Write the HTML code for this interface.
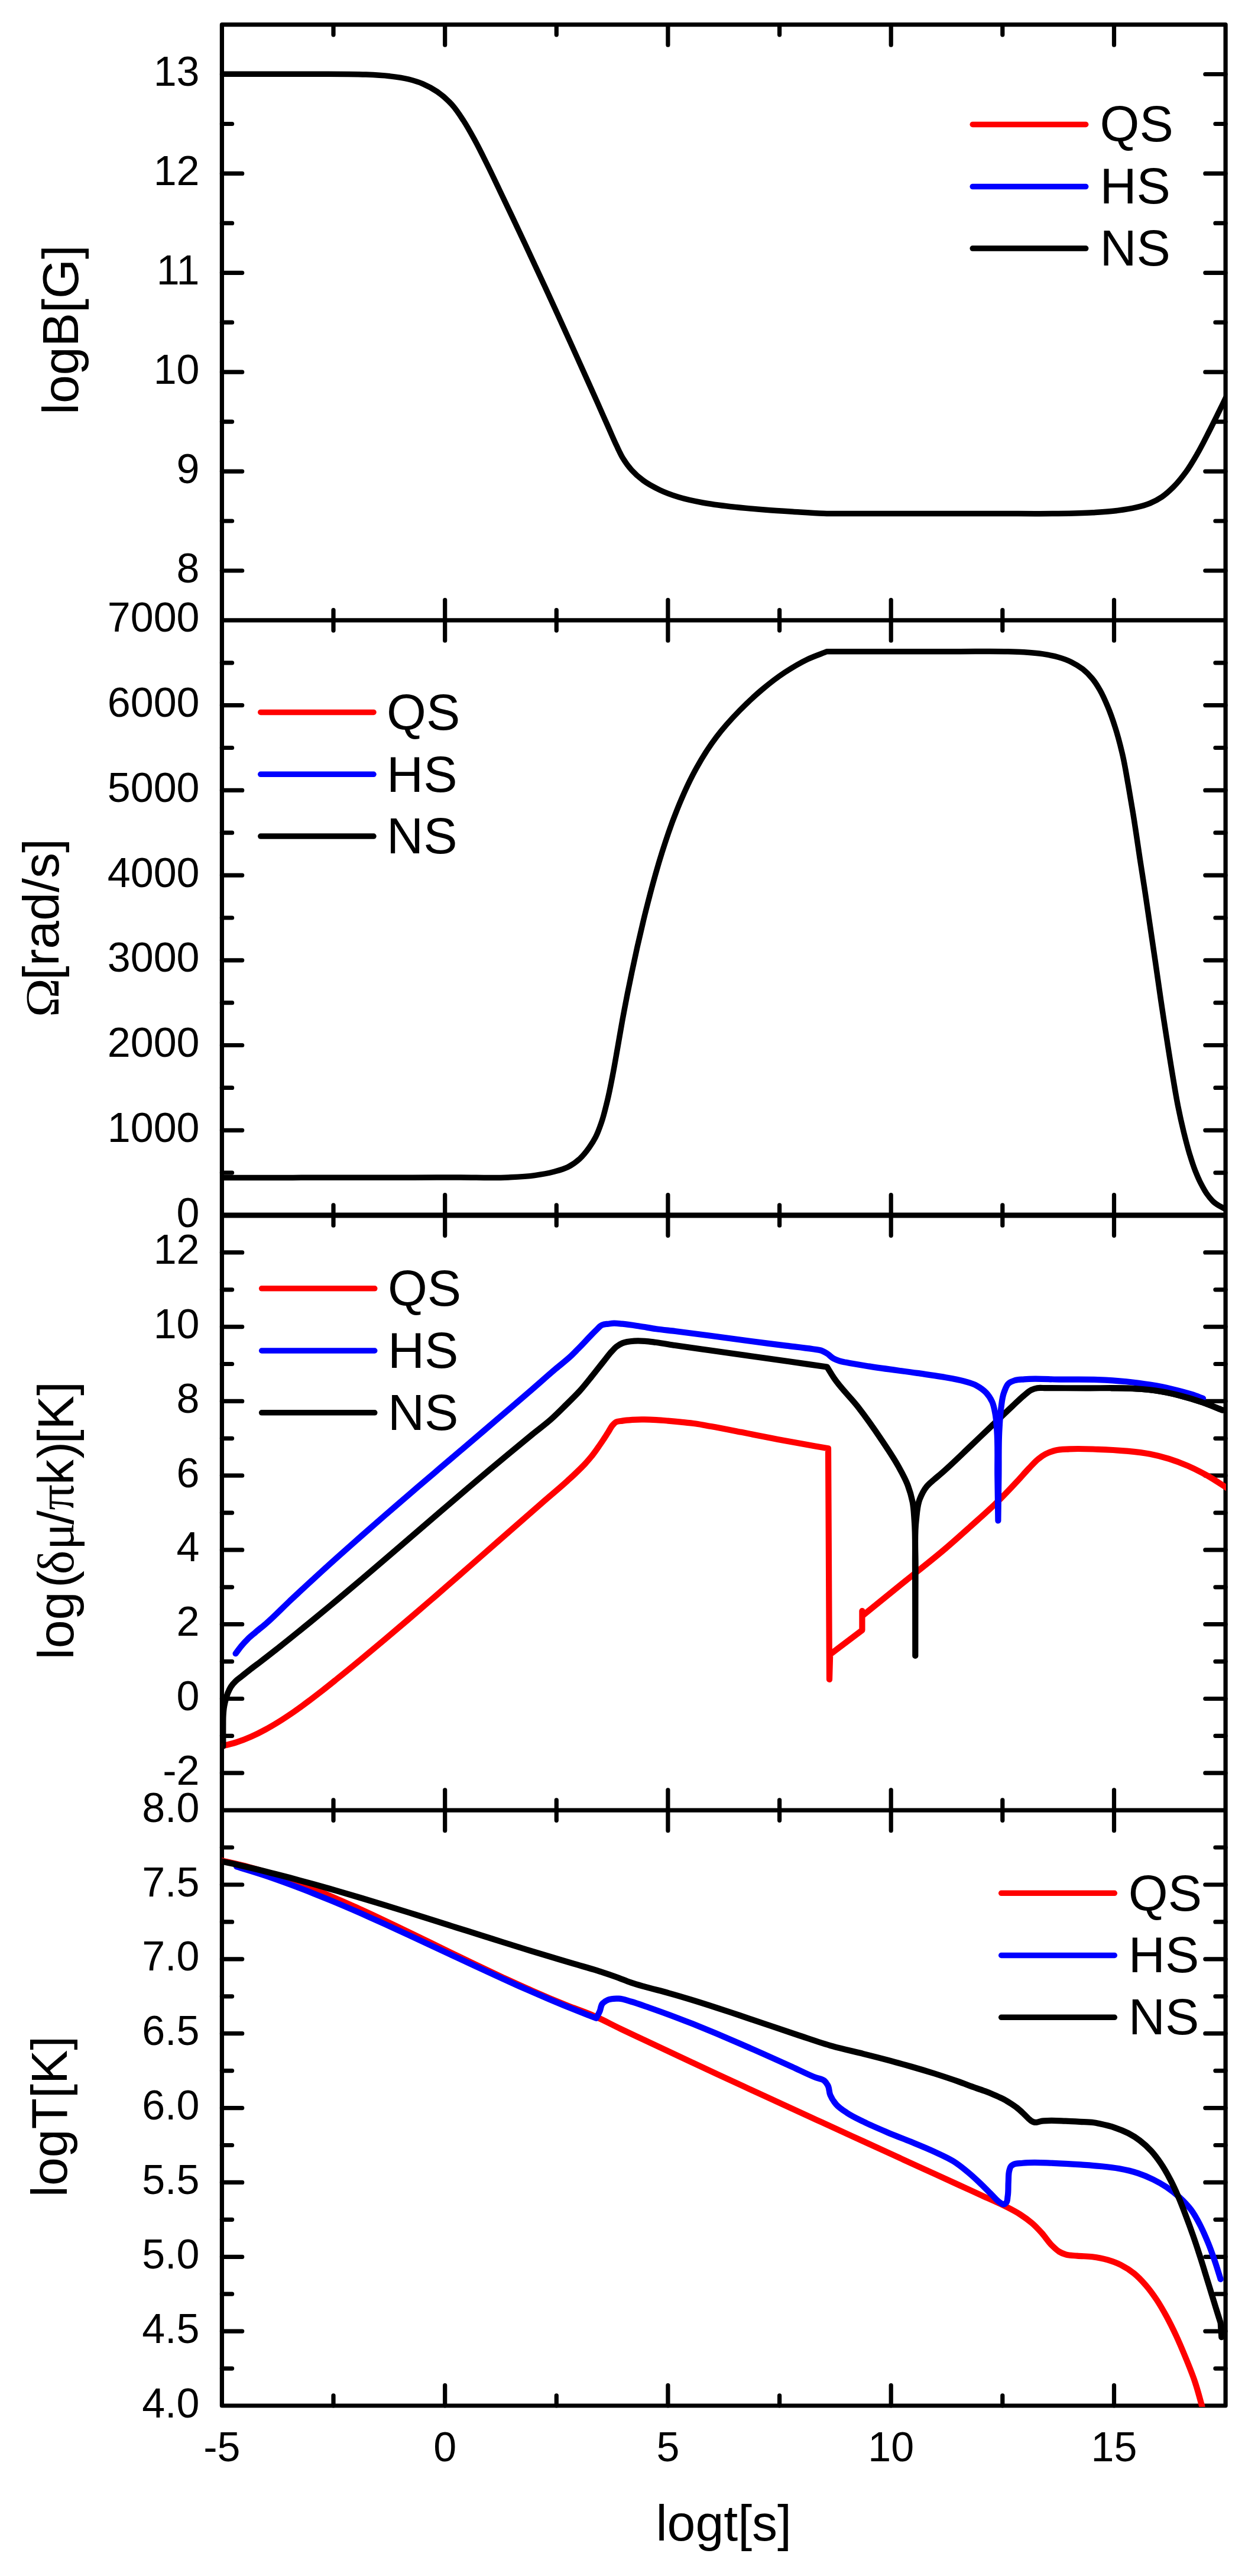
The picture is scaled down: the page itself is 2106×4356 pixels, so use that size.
<!DOCTYPE html>
<html lang="en"><head><meta charset="utf-8"><title>Evolution of logB, Omega, delta mu and logT versus logt for QS, HS and NS</title>
<style>html,body{margin:0;padding:0;background:#fff}svg{display:block}text{font-family:"Liberation Sans", Arial, Helvetica, sans-serif;fill:#000}.t{font-size:70px}.l{font-size:86px}.g{font-family:"Liberation Serif", "Times New Roman", serif}</style></head><body>
<svg width="2106" height="4356" viewBox="0 0 2106 4356">
<rect width="2106" height="4356" fill="#fff"/>
<g stroke-width="9.5" stroke-linecap="round"><line x1="1645.2" y1="210.5" x2="1836.7" y2="210.5" stroke="#ff0000"/><line x1="1645.2" y1="315.6" x2="1836.7" y2="315.6" stroke="#0000ff"/><line x1="1645.2" y1="420.1" x2="1836.7" y2="420.1" stroke="#000000"/></g><text class="l" x="1860.5" y="239.4">QS</text><text class="l" x="1860.5" y="344.2">HS</text><text class="l" x="1860.5" y="449">NS</text>
<g stroke-width="9.5" stroke-linecap="round"><line x1="440.8" y1="1204.4" x2="632" y2="1204.4" stroke="#ff0000"/><line x1="440.8" y1="1309.3" x2="632" y2="1309.3" stroke="#0000ff"/><line x1="440.8" y1="1414.1" x2="632" y2="1414.1" stroke="#000000"/></g><text class="l" x="654.1" y="1233.7">QS</text><text class="l" x="654.1" y="1338.5">HS</text><text class="l" x="654.1" y="1443.3">NS</text>
<g stroke-width="9.5" stroke-linecap="round"><line x1="442.6" y1="2178.8" x2="633.8" y2="2178.8" stroke="#ff0000"/><line x1="442.6" y1="2284" x2="633.8" y2="2284" stroke="#0000ff"/><line x1="442.6" y1="2388.8" x2="633.8" y2="2388.8" stroke="#000000"/></g><text class="l" x="655.9" y="2208.4">QS</text><text class="l" x="655.9" y="2313.2">HS</text><text class="l" x="655.9" y="2418">NS</text>
<g stroke-width="9.5" stroke-linecap="round"><line x1="1693.7" y1="3201.3" x2="1885.3" y2="3201.3" stroke="#ff0000"/><line x1="1693.7" y1="3306.5" x2="1885.3" y2="3306.5" stroke="#0000ff"/><line x1="1693.7" y1="3411.3" x2="1885.3" y2="3411.3" stroke="#000000"/></g><text class="l" x="1908.8" y="3230.6">QS</text><text class="l" x="1908.8" y="3335.4">HS</text><text class="l" x="1908.8" y="3440.2">NS</text>
<g stroke="#000" stroke-width="7.2" stroke-linecap="round" fill="none">
<path d="M375.4 41.6V4068M2073.1 41.6V4068M375.4 41.6H2073.1M375.4 1048.9H2073.1M375.4 2055H2073.1M375.4 3061.1H2073.1M375.4 4068H2073.1"/>
<path d="M375.4 2055H2073.1" stroke-width="9.2" stroke-linecap="butt"/>
<path d="M752.7 41.6V75.9M1129.9 41.6V75.9M1507.2 41.6V75.9M1884.5 41.6V75.9M564 41.6V58.8M941.3 41.6V58.8M1318.6 41.6V58.8M1695.8 41.6V58.8M752.7 1014.6V1083.2M1129.9 1014.6V1083.2M1507.2 1014.6V1083.2M1884.5 1014.6V1083.2M564 1031.7V1066.1M941.3 1031.7V1066.1M1318.6 1031.7V1066.1M1695.8 1031.7V1066.1M752.7 2020.7V2089.3M1129.9 2020.7V2089.3M1507.2 2020.7V2089.3M1884.5 2020.7V2089.3M564 2037.8V2072.2M941.3 2037.8V2072.2M1318.6 2037.8V2072.2M1695.8 2037.8V2072.2M752.7 3026.8V3095.4M1129.9 3026.8V3095.4M1507.2 3026.8V3095.4M1884.5 3026.8V3095.4M564 3043.9V3078.3M941.3 3043.9V3078.3M1318.6 3043.9V3078.3M1695.8 3043.9V3078.3M752.7 4033.7V4068M1129.9 4033.7V4068M1507.2 4033.7V4068M1884.5 4033.7V4068M564 4050.8V4068M941.3 4050.8V4068M1318.6 4050.8V4068M1695.8 4050.8V4068M375.4 965H409.7M2073.1 965H2038.8M375.4 797.1H409.7M2073.1 797.1H2038.8M375.4 629.2H409.7M2073.1 629.2H2038.8M375.4 461.3H409.7M2073.1 461.3H2038.8M375.4 293.4H409.7M2073.1 293.4H2038.8M375.4 125.5H409.7M2073.1 125.5H2038.8M375.4 881H392.6M2073.1 881H2055.9M375.4 713.1H392.6M2073.1 713.1H2055.9M375.4 545.2H392.6M2073.1 545.2H2055.9M375.4 377.4H392.6M2073.1 377.4H2055.9M375.4 209.5H392.6M2073.1 209.5H2055.9M375.4 1911.3H409.7M2073.1 1911.3H2038.8M375.4 1767.5H409.7M2073.1 1767.5H2038.8M375.4 1623.8H409.7M2073.1 1623.8H2038.8M375.4 1480.1H409.7M2073.1 1480.1H2038.8M375.4 1336.4H409.7M2073.1 1336.4H2038.8M375.4 1192.6H409.7M2073.1 1192.6H2038.8M375.4 1983.1H392.6M2073.1 1983.1H2055.9M375.4 1839.4H392.6M2073.1 1839.4H2055.9M375.4 1695.7H392.6M2073.1 1695.7H2055.9M375.4 1552H392.6M2073.1 1552H2055.9M375.4 1408.2H392.6M2073.1 1408.2H2055.9M375.4 1264.5H392.6M2073.1 1264.5H2055.9M375.4 1120.8H392.6M2073.1 1120.8H2055.9M375.4 2998.2H409.7M2073.1 2998.2H2038.8M375.4 2872.5H409.7M2073.1 2872.5H2038.8M375.4 2746.7H409.7M2073.1 2746.7H2038.8M375.4 2620.9H409.7M2073.1 2620.9H2038.8M375.4 2495.2H409.7M2073.1 2495.2H2038.8M375.4 2369.4H409.7M2073.1 2369.4H2038.8M375.4 2243.6H409.7M2073.1 2243.6H2038.8M375.4 2117.9H409.7M2073.1 2117.9H2038.8M375.4 2935.3H392.6M2073.1 2935.3H2055.9M375.4 2809.6H392.6M2073.1 2809.6H2055.9M375.4 2683.8H392.6M2073.1 2683.8H2055.9M375.4 2558.1H392.6M2073.1 2558.1H2055.9M375.4 2432.3H392.6M2073.1 2432.3H2055.9M375.4 2306.5H392.6M2073.1 2306.5H2055.9M375.4 2180.8H392.6M2073.1 2180.8H2055.9M375.4 3942.1H409.7M2073.1 3942.1H2038.8M375.4 3816.3H409.7M2073.1 3816.3H2038.8M375.4 3690.4H409.7M2073.1 3690.4H2038.8M375.4 3564.6H409.7M2073.1 3564.6H2038.8M375.4 3438.7H409.7M2073.1 3438.7H2038.8M375.4 3312.8H409.7M2073.1 3312.8H2038.8M375.4 3187H409.7M2073.1 3187H2038.8M375.4 4005.1H392.6M2073.1 4005.1H2055.9M375.4 3879.2H392.6M2073.1 3879.2H2055.9M375.4 3753.3H392.6M2073.1 3753.3H2055.9M375.4 3627.5H392.6M2073.1 3627.5H2055.9M375.4 3501.6H392.6M2073.1 3501.6H2055.9M375.4 3375.8H392.6M2073.1 3375.8H2055.9M375.4 3249.9H392.6M2073.1 3249.9H2055.9M375.4 3124H392.6M2073.1 3124H2055.9"/>
</g>
<defs><clipPath id="c1"><rect x="375.4" y="41.6" width="1698.5" height="1007.3"/></clipPath><clipPath id="c2"><rect x="375.4" y="1048.9" width="1698.5" height="1006.1"/></clipPath><clipPath id="c3"><rect x="375.4" y="2055" width="1698.5" height="1006.1"/></clipPath><clipPath id="c4"><rect x="375.4" y="3061.1" width="1698.5" height="1008.9"/></clipPath></defs>
<g fill="none" stroke-width="9.5" stroke-linecap="round" stroke-linejoin="round">
<path d="M374 125.2C401.4 125.2 428.9 125.2 456.4 125.2C483.8 125.3 511.3 125.2 538.7 125.3C555.8 125.3 572.9 125.2 590 125.5C599.7 125.6 609.3 125.7 619 126.1C632.3 126.6 645.7 127.2 659 128.8C669.8 130.1 680.8 131.4 691.3 134C699.5 136.1 707.7 138.5 715.4 141.8C723.8 145.4 732 149.9 739.5 155C748.2 161 756.4 168.2 763.6 176C771.3 184.3 777.5 194 783.7 203.5C791 214.6 797.3 226.3 803.7 238C810.8 251 817.2 264.3 823.8 277.5C830.7 291.3 837.2 305.3 843.9 319.2C851.4 334.9 858.9 350.6 866.4 366.4C873.8 382 881.2 397.6 888.5 413.3C895.9 429.1 903.3 444.9 910.6 460.7C918 476.6 925.3 492.6 932.7 508.5C940 524.6 947.4 540.6 954.7 556.7C961.4 571.5 968.1 586.3 974.8 601.1C981.5 615.9 988.2 630.8 994.9 645.7C1000.3 657.7 1005.6 669.7 1011 681.6C1016.3 693.6 1021.6 705.7 1027 717.7C1032.4 729.7 1037.4 741.9 1043.1 753.8C1046.3 760.5 1049.3 767.5 1053.1 773.9C1057.5 781.2 1062.5 788.3 1068.2 794.6C1074.2 801.3 1081.1 807.4 1088.3 812.7C1096.9 819.1 1106.7 824.1 1116.4 828.7C1126.7 833.6 1137.6 837.4 1148.5 840.8C1161.6 844.8 1175.2 847.5 1188.7 850C1204.6 853 1220.8 854.9 1236.9 856.8C1255.6 859 1274.3 860.5 1293.1 862C1309.2 863.3 1325.2 864.3 1341.3 865.3C1358.7 866.4 1376.1 867.7 1393.5 868.3C1414.6 869 1435.7 868.4 1456.8 868.4C1477.8 868.4 1498.9 868.5 1520 868.5C1549 868.5 1577.9 868.5 1606.9 868.5C1635.9 868.5 1664.8 868.5 1693.8 868.5C1722.8 868.5 1751.7 868.9 1780.7 868.5C1803.5 868.2 1826.3 868.1 1849 866.7C1862.4 865.9 1875.9 865.2 1889.2 863.5C1899.9 862.1 1910.8 860.7 1921.3 858.2C1929.4 856.3 1937.7 854.2 1945.4 851C1952.4 848.1 1959.2 844.4 1965.5 840.2C1972.8 835.3 1979.3 829.1 1985.5 822.9C1992.9 815.5 1999.4 807.2 2005.6 798.8C2013.1 788.6 2019.4 777.6 2025.7 766.7C2032.9 754.3 2039.3 741.3 2045.8 728.5C2051.2 717.9 2056.5 707.1 2061.8 696.4C2066.6 686.7 2071.3 676.9 2076 667.2" stroke="#000000" clip-path="url(#c1)"/>
<path d="M374 1991.5C401 1991.5 428 1991.4 455 1991.4C482 1991.4 509.1 1991.4 536.1 1991.3C563.1 1991.3 590.1 1991.3 617.1 1991.2C644.1 1991.2 671.1 1991.2 698.1 1991.2C725.1 1991.1 752.2 1991.1 779.2 1991.1C806.2 1991.1 833.2 1992.3 860.2 1991C874.9 1990.3 889.8 1989.7 904.4 1987.6C915.2 1986.1 926 1984.3 936.5 1981.5C944.7 1979.3 953.1 1977.3 960.6 1973.5C967.8 1969.8 974.7 1964.9 980.7 1959.4C986.8 1953.8 992 1947 996.8 1940.2C1000.6 1934.8 1004.2 1929.1 1007.3 1923.2C1011.4 1915.3 1014.4 1906.8 1017.3 1898.3C1021.6 1885.9 1024.5 1873 1027.6 1860.3C1031.2 1845.4 1034 1830.4 1036.9 1815.4C1039.8 1800.3 1042.3 1785.2 1045 1770.1C1047.7 1754.8 1050.2 1739.6 1053 1724.3C1055.6 1710.2 1058.2 1696.2 1061 1682.1C1063.6 1669.1 1066.3 1656.1 1069 1643.1C1071.9 1629.5 1074.8 1615.9 1077.8 1602.3C1080.7 1589.5 1083.7 1576.7 1086.7 1563.9C1089.4 1552.4 1092.2 1540.9 1095.2 1529.4C1097.9 1518.7 1100.7 1507.9 1103.6 1497.2C1107.1 1484.4 1110.7 1471.7 1114.4 1459.1C1117.9 1447.5 1121.5 1436 1125.3 1424.5C1129.1 1412.9 1133.1 1401.4 1137.3 1389.9C1141.2 1379.6 1145.2 1369.3 1149.4 1359.1C1154 1348.2 1158.7 1337.3 1163.8 1326.6C1168.4 1317.1 1173.2 1307.6 1178.3 1298.4C1183.6 1288.8 1189.2 1279.3 1195.2 1270.1C1200.5 1261.9 1206.1 1253.9 1212 1246.1C1223.8 1230.5 1237 1215.9 1250.6 1202C1262.9 1189.4 1275.7 1177.3 1289.2 1166C1301.5 1155.7 1314.3 1145.7 1327.7 1136.9C1340.1 1128.8 1352.9 1121.1 1366.3 1114.7C1376.9 1109.7 1388.1 1106 1399 1101.7C1424.1 1101.7 1449.2 1101.7 1474.2 1101.7C1499.3 1101.7 1524.4 1101.7 1549.5 1101.7C1574.6 1101.7 1599.7 1101.7 1624.8 1101.7C1649.8 1101.7 1674.9 1101.2 1700 1101.7C1710.7 1101.9 1721.4 1102 1732.1 1102.7C1742.9 1103.4 1753.7 1104.2 1764.3 1105.9C1772.9 1107.3 1781.6 1108.8 1790 1111.3C1797.7 1113.5 1805.4 1116.2 1812.5 1119.7C1819.2 1123 1825.8 1127 1831.7 1131.6C1837.6 1136.3 1843 1141.8 1847.8 1147.6C1852.7 1153.5 1856.8 1160.2 1860.6 1166.9C1865.6 1175.6 1869.6 1184.9 1873.5 1194.2C1878.4 1205.7 1882.5 1217.7 1886.3 1229.6C1891.4 1245.4 1895.5 1261.6 1899.2 1277.8C1903.1 1294.8 1905.7 1312 1908.8 1329.2C1912.2 1348.4 1915.4 1367.7 1918.5 1387C1921.9 1408.4 1924.8 1429.9 1928.1 1451.3C1930.7 1468.4 1933.5 1485.6 1936.1 1502.7C1939 1521.9 1941.8 1541 1944.6 1560.2C1947.8 1581.9 1951 1603.6 1954.2 1625.3C1957.5 1647.8 1960.6 1670.3 1963.9 1692.8C1967 1713.7 1970.2 1734.5 1973.5 1755.4C1976.6 1775.5 1979.7 1795.6 1983.1 1815.7C1986.2 1834.2 1989.1 1852.7 1992.8 1871.1C1995.7 1885.6 1998.9 1900.1 2002.4 1914.5C2005.4 1926.6 2008.4 1938.7 2012 1950.6C2015 1960.3 2018 1970.1 2021.7 1979.5C2024.6 1986.8 2027.7 1994.2 2031.3 2001.2C2034.3 2007 2037.3 2012.8 2041 2018.1C2044.6 2023.2 2048.5 2028.3 2053 2032.5C2059.5 2038.5 2068.3 2041.8 2076 2046.5" stroke="#000000" clip-path="url(#c2)"/>
<path d="M378 2952.2C385.4 2950.2 392.9 2948.6 400.2 2946.2C408.4 2943.6 416.4 2940.4 424.3 2936.9C432.5 2933.3 440.5 2929.3 448.4 2925C456.6 2920.6 464.5 2915.9 472.4 2911C480.6 2905.9 488.6 2900.5 496.5 2895.1C504.7 2889.4 512.7 2883.6 520.6 2877.7C528.7 2871.6 536.7 2865.4 544.7 2859.2C553.5 2852.4 562.1 2845.4 570.8 2838.4C584.3 2827.6 597.7 2816.6 611 2805.6C624.4 2794.5 637.8 2783.3 651.1 2772.1C664.6 2760.8 678 2749.4 691.3 2738C702.8 2728.2 714.2 2718.4 725.6 2708.5C737.1 2698.6 748.6 2688.6 760 2678.7C771.9 2668.3 783.8 2657.9 795.7 2647.5C810.5 2634.6 825.2 2621.6 840 2608.7C853.3 2597 866.7 2585.3 880 2573.6C893.3 2562 906.6 2550.3 920 2538.7C933.3 2527.1 947 2515.9 960 2504C965 2499.4 970.1 2494.8 975 2490C980.1 2485.1 985.2 2480.2 990 2475C993.4 2471.2 996.8 2467.4 1000 2463.4C1003.5 2459.1 1006.7 2454.5 1010 2450C1013.4 2445.2 1016.7 2440.4 1020 2435.5C1023 2431 1025.8 2426.5 1028.7 2422C1031.4 2417.8 1033.4 2413.1 1036.7 2409.5C1038.2 2407.9 1039.7 2406.1 1041.5 2405C1044.7 2403 1049 2403.2 1052.8 2402.6C1058.5 2401.6 1064.3 2401.2 1070 2400.8C1076.6 2400.4 1083.3 2400.3 1090 2400.4C1096.7 2400.5 1103.3 2400.8 1110 2401.2C1116.7 2401.6 1123.3 2402.1 1130 2402.6C1137.1 2403.2 1144.3 2403.9 1151.4 2404.6C1160 2405.5 1168.6 2406.3 1177.1 2407.5C1185.7 2408.7 1194.2 2410.5 1202.8 2412C1220 2415.1 1237.1 2418.5 1254.2 2421.8C1271.4 2425.1 1288.5 2428.7 1305.7 2432C1322.8 2435.3 1339.9 2438.5 1357.1 2441.6C1371.7 2444.2 1386.4 2446.7 1401 2449.3L1403 2840L1404.2 2797.6L1458.4 2756.6L1458.4 2724L1460.5 2731C1483.8 2712.2 1507 2693.3 1530.2 2674.5C1553.5 2655.7 1577.3 2637.4 1600 2618C1613.6 2606.4 1626.9 2594.4 1640.2 2582.5C1656.4 2568 1672.9 2553.7 1688.4 2538.4C1699.4 2527.6 1710 2516.3 1720.5 2505C1727.3 2497.7 1733.7 2490.1 1740.6 2482.9C1745.8 2477.5 1750.7 2471.5 1756.6 2466.9C1760.4 2463.9 1764.4 2461 1768.7 2458.8C1773.7 2456.2 1779.2 2454.2 1784.7 2452.8C1792.5 2450.8 1800.8 2450.9 1808.8 2450.4C1824.8 2449.4 1840.9 2450.3 1857 2450.8C1873.1 2451.3 1889.2 2452.1 1905.2 2453.6C1918.6 2454.9 1932.2 2456.2 1945.4 2458.8C1956.2 2460.9 1967 2463.6 1977.5 2466.9C1988.4 2470.3 1999.1 2474.4 2009.6 2478.9C2020.6 2483.7 2031.3 2489.2 2041.8 2495C2053.5 2501.6 2064.6 2509.3 2076 2516.5" stroke="#ff0000" clip-path="url(#c3)" stroke-width="10.2"/>
<path d="M377.3 2953C377.3 2942 377.2 2931 377.3 2920C377.4 2913.5 377.2 2907 377.6 2900.6C377.9 2895.3 378.3 2889.9 379.3 2884.6C380 2880.8 380.9 2877 382 2873.3C383.1 2869.5 384.2 2865.7 385.7 2862.1C387.1 2858.8 388.6 2855.4 390.5 2852.4C392.7 2848.9 395.6 2845.7 398.6 2842.8C401.5 2840 405 2837.7 408.2 2835.1C413.6 2830.8 418.9 2826.4 424.3 2822.2C429.6 2818.1 435 2814.2 440.3 2810.2C451.1 2802 461.7 2793.6 472.4 2785.2C483.2 2776.7 493.9 2768.1 504.6 2759.4C513.3 2752.4 522 2745.4 530.6 2738.3C544.1 2727.2 557.4 2716.1 570.8 2705C584.2 2693.7 597.6 2682.4 611 2671.1C624.4 2659.7 637.8 2648.3 651.1 2636.9C664.6 2625.4 677.9 2613.9 691.3 2602.4C702.8 2592.6 714.2 2582.7 725.6 2572.9C737.1 2563 748.5 2553.2 760 2543.4C771.1 2533.9 782.2 2524.4 793.3 2514.9C804.4 2505.5 815.5 2496.1 826.7 2486.7C837.8 2477.3 848.9 2468 860 2458.8C873.3 2447.7 886.7 2436.7 900.2 2425.7C910.8 2417.1 921.9 2409.1 932.1 2400C940.7 2392.4 948.8 2384.1 957 2376C964.9 2368.2 973 2360.5 980.5 2352.3C987.5 2344.5 994 2336.2 1000.6 2328C1007.4 2319.6 1013.9 2311.1 1020.6 2302.7C1025.3 2296.9 1029.6 2290.8 1034.7 2285.3C1037.3 2282.5 1039.7 2279.5 1042.7 2277.2C1045.8 2274.8 1049.3 2272.7 1052.8 2271.2C1059 2268.6 1066.1 2268.1 1072.9 2267.6C1078.9 2267.1 1084.9 2267.4 1090.9 2267.8C1097.3 2268.2 1103.6 2269.2 1110 2270C1120.6 2271.4 1131.2 2273.4 1141.8 2275C1161.2 2277.9 1180.6 2280.5 1200 2283.2C1223.5 2286.5 1247 2289.9 1270.5 2293.2C1291.9 2296.2 1313.3 2299.3 1334.8 2302.3C1356.2 2305.4 1377.6 2308.4 1399 2311.5C1403 2317.9 1406.8 2324.5 1411 2330.7C1422.7 2348 1438.4 2362.4 1451.2 2378.9C1465.3 2397.1 1478.6 2416 1491.4 2435.1C1501.1 2449.6 1511.1 2464 1519.5 2479.3C1525.3 2489.8 1531.3 2500.3 1535.5 2511.4C1538.9 2520.5 1541.7 2530 1543.6 2539.6C1545.7 2550.1 1546 2561 1546.8 2571.7C1548.8 2597.7 1547.8 2623.9 1548 2650C1548.2 2675 1548.1 2700 1548.2 2725C1548.2 2750 1548.2 2775 1548.3 2800C1548.3 2775 1548.4 2750 1548.4 2725C1548.5 2700 1548.4 2675 1548.6 2650C1548.8 2623.9 1546.6 2597.6 1549.6 2571.7C1551 2559.6 1551.3 2546.8 1555.6 2535.5C1558.6 2527.8 1562.4 2519.9 1567.7 2513.5C1571.2 2509.2 1575.8 2505.7 1580 2502C1583.9 2498.6 1587.9 2495.4 1591.8 2492C1608.5 2477.6 1624.2 2462 1640.2 2446.8C1653.6 2434.1 1666.9 2421.2 1680.3 2408.5C1691 2398.3 1701.6 2388.1 1712.4 2378C1719.1 2371.8 1725.4 2365.1 1732.5 2359.4C1736.4 2356.3 1740.1 2352.5 1744.6 2350.4C1747.7 2348.9 1751.2 2347.8 1754.6 2347.2C1759.2 2346.4 1764 2347.2 1768.7 2347.2C1791.5 2347.2 1814.2 2347.3 1837 2347.4C1859.7 2347.5 1882.5 2346.6 1905.2 2347.6C1921.3 2348.3 1937.5 2348.9 1953.4 2351.2C1966.9 2353.1 1980.4 2355.9 1993.6 2359.2C2007.1 2362.6 2020.5 2366.7 2033.7 2371.3C2045.2 2375.3 2056.5 2380.1 2067.9 2384.5" stroke="#000000" clip-path="url(#c3)" stroke-width="10.2"/>
<path d="M398.6 2796.2C401.8 2791.9 404.8 2787.5 408.2 2783.4C411.7 2779.2 415.5 2775.1 419.4 2771.3C423.5 2767.3 428 2763.8 432.3 2760.1C438.1 2755.1 444.2 2750.5 450 2745.5C464.1 2733.4 476.8 2719.8 490.3 2707.1C503.7 2694.6 517.1 2682.1 530.6 2669.8C543.9 2657.5 557.3 2645.4 570.8 2633.3C584.1 2621.4 597.6 2609.5 611 2597.6C624.3 2585.9 637.7 2574.2 651.1 2562.5C664.5 2550.9 677.9 2539.4 691.3 2527.8C706.1 2515.1 721 2502.4 735.8 2489.8C750.6 2477.1 765.5 2464.5 780.3 2451.9C793.6 2440.6 806.9 2429.3 820.1 2418C833.4 2406.6 846.7 2395.3 860 2383.9C873.4 2372.4 886.8 2360.9 900.2 2349.3C913.6 2337.7 926.8 2325.9 940.3 2314.4C948.3 2307.6 956.7 2301.4 964.4 2294.3C970 2289.1 975.2 2283.6 980.5 2278.2C987.3 2271.3 993.8 2264 1000.6 2257.1C1003.9 2253.7 1007.2 2250.4 1010.6 2247.1C1012.2 2245.5 1013.7 2243.7 1015.5 2242.4C1016.6 2241.6 1017.8 2240.9 1019 2240.3C1021.9 2239 1025.5 2239.1 1028.7 2238.7C1032 2238.3 1035.4 2237.8 1038.7 2237.7C1043.4 2237.6 1048.1 2238.3 1052.8 2238.7C1062.2 2239.6 1071.6 2241.1 1080.9 2242.5C1090.6 2243.9 1100.3 2245.8 1110 2247.2C1120.6 2248.7 1131.2 2249.7 1141.8 2251C1161.2 2253.4 1180.6 2255.9 1200 2258.5C1223.5 2261.6 1247 2264.9 1270.5 2268C1290.3 2270.6 1310.2 2273.1 1330 2275.6C1345 2277.5 1360.1 2279 1375 2281.3C1379.7 2282 1384.6 2282 1389 2283.6C1392.5 2284.8 1395.8 2286.8 1399 2288.8C1402.9 2291.2 1406 2295.1 1410 2297.3C1413.1 2299 1416.6 2300.2 1420 2301.3C1423.6 2302.4 1427.4 2303 1431.1 2303.8C1444.4 2306.6 1457.9 2308.5 1471.3 2310.6C1498 2314.9 1524.9 2318 1551.6 2321.9C1565 2323.9 1578.5 2325.6 1591.8 2327.9C1605.2 2330.2 1618.9 2332 1631.9 2335.9C1638.8 2338 1646 2339.8 1652.2 2343.2C1658 2346.4 1663.8 2350.4 1668.3 2355.2C1672.4 2359.6 1675.8 2365 1678.3 2370.5C1681.1 2376.7 1682.2 2383.8 1683.5 2390.6C1685.3 2399.8 1685.6 2409.3 1686.3 2418.7C1688.2 2444.1 1687 2469.6 1687.3 2495.1C1687.7 2520.6 1688 2546 1688.4 2571.5C1688.7 2546 1689.1 2520.6 1689.4 2495.1C1689.7 2469.6 1689 2444.1 1690.4 2418.7C1691.1 2406.6 1691.6 2394.5 1693.2 2382.5C1694.5 2373.1 1695 2363.2 1698.4 2354.4C1700.5 2349.1 1702.2 2342.7 1706.4 2339.2C1709.1 2336.9 1713 2335.5 1716.5 2334.3C1721.5 2332.6 1727.2 2332.8 1732.5 2332.3C1753.1 2330.3 1774 2332.6 1794.8 2332.7C1815.5 2332.8 1836.3 2332.3 1857 2333.1C1873.1 2333.7 1889.2 2334.7 1905.2 2336.3C1918.6 2337.7 1932.1 2339.4 1945.4 2341.6C1958.8 2343.8 1972.3 2346.4 1985.5 2349.6C1996.3 2352.2 2007.1 2354.9 2017.7 2358.4C2023.5 2360.3 2029.2 2362.6 2035 2364.7" stroke="#0000ff" clip-path="url(#c3)" stroke-width="10.2"/>
<path d="M1880 2347.5C1888.4 2347.5 1896.8 2347.4 1905.2 2347.6C1921.3 2348.1 1937.5 2348.9 1953.4 2351.2C1966.9 2353.1 1980.4 2355.9 1993.6 2359.2C2007.1 2362.6 2020.5 2366.7 2033.7 2371.3C2045.2 2375.3 2056.5 2380.1 2067.9 2384.5" stroke="#000000" clip-path="url(#c3)" stroke-width="10.2"/>
<path d="M374 3146C389.3 3149.6 404.8 3152.8 420 3156.9C436.8 3161.4 453.5 3166.6 470 3172.2C486.8 3177.8 503.5 3183.9 520 3190.3C533.4 3195.5 546.7 3201 560 3206.6C573.4 3212.3 586.7 3218.2 600 3224.1C613.4 3230.1 626.7 3236.3 640 3242.5C650 3247.2 660 3252 670 3256.8C680 3261.6 690 3266.5 700 3271.3C710 3276.2 720 3281 730 3285.9C740 3290.8 750 3295.7 760 3300.5C773.3 3307 786.6 3313.5 800 3319.9C816.6 3327.9 833.3 3335.8 850 3343.6C866.6 3351.2 883.2 3358.9 900 3366.2C910 3370.6 920 3374.9 930 3379.1C940 3383.3 950 3387.4 960 3391.4C973.3 3396.7 986.9 3401.1 1000 3406.7C1017 3413.9 1033.3 3422.8 1050 3430.8C1063.5 3437.2 1076.9 3443.6 1090.4 3449.9C1103.9 3456.3 1117.4 3462.6 1130.9 3468.9C1144.3 3475.2 1157.8 3481.5 1171.3 3487.8C1185.6 3494.5 1199.9 3501.2 1214.2 3507.8C1228.5 3514.4 1242.8 3521 1257.1 3527.7C1271.4 3534.3 1285.7 3540.9 1300 3547.4C1313.4 3553.6 1326.8 3559.8 1340.2 3565.9C1353.5 3572 1366.9 3578.2 1380.3 3584.3C1393.7 3590.4 1407.1 3596.6 1420.4 3602.7C1433.8 3608.8 1447.2 3614.9 1460.6 3621C1474 3627.2 1487.4 3633.3 1500.8 3639.4C1514.2 3645.5 1527.6 3651.6 1541 3657.8C1554.4 3663.9 1567.8 3670 1581.2 3676.1C1594.5 3682.2 1607.9 3688.3 1621.3 3694.5C1634.7 3700.6 1648 3706.7 1661.4 3712.8C1674.8 3719 1688.5 3724.5 1701.6 3731.3C1709.8 3735.5 1718 3739.6 1725.7 3744.6C1732.7 3749.1 1739.5 3754 1745.8 3759.4C1751.5 3764.3 1756.7 3769.9 1761.8 3775.5C1768.3 3782.6 1773.3 3791.2 1780.3 3797.9C1783.9 3801.3 1787.4 3805 1791.6 3807.5C1795 3809.6 1798.9 3811.2 1802.8 3812.4C1808.9 3814.3 1815.7 3814 1822.1 3814.6C1830.6 3815.4 1839.3 3815.1 1847.8 3816.2C1856.4 3817.3 1865.1 3818.9 1873.5 3821.4C1881.2 3823.7 1888.9 3826.4 1896 3830C1903.9 3834 1911.6 3838.9 1918.5 3844.5C1925.5 3850.2 1931.8 3857 1937.8 3863.8C1944.8 3871.8 1951.1 3880.6 1957 3889.5C1962.8 3898.3 1968 3907.5 1973.1 3916.8C1978.8 3927.3 1984.1 3938.1 1989.2 3948.9C1994.9 3961.1 2000.1 3973.5 2005.2 3985.9C2010.9 3999.7 2016.6 4013.5 2021.3 4027.6C2025.6 4040.3 2029 4053.3 2032.5 4066.2C2033.3 4069.3 2034.2 4072.4 2035 4075.5" stroke="#ff0000" clip-path="url(#c4)" stroke-width="10.2"/>
<path d="M400.1 3156.4C416.8 3161.7 433.7 3166.6 450.3 3172.2C463.8 3176.8 477.1 3181.6 490.5 3186.5C503.9 3191.5 517.3 3196.6 530.6 3201.9C540.4 3205.8 550.2 3209.8 560 3213.9C577.1 3221 594.1 3228.3 611 3235.7C624.4 3241.6 637.8 3247.7 651.1 3253.7C664.6 3259.8 677.9 3265.9 691.3 3272.1C702.8 3277.4 714.2 3282.8 725.6 3288.1C737.1 3293.5 748.5 3298.8 760 3304.2C775 3311.2 790 3318.3 805 3325.2C820 3332.2 835 3339.1 850 3345.9C863.4 3352 876.7 3358 890.1 3363.9C903.5 3369.8 916.9 3375.6 930.3 3381.3C946.3 3388.1 962.3 3394.7 978.5 3401.1C988.5 3405 998.6 3408.8 1008.6 3412.7C1010.6 3408.7 1013 3404.8 1014.7 3400.6C1016.3 3396.7 1016.3 3391.8 1018.7 3388.6C1021 3385.5 1025.1 3383.3 1028.7 3381.7C1034.1 3379.4 1040.8 3379.4 1046.8 3379.7C1053.6 3380 1060.3 3382.7 1066.9 3384.5C1077.8 3387.5 1088.3 3391.5 1099 3395.2C1109.7 3398.9 1120.4 3402.8 1131.1 3406.7C1144.5 3411.7 1157.9 3416.9 1171.2 3422.1C1184.7 3427.5 1198.1 3433 1211.4 3438.5C1224.8 3444.1 1238.2 3449.9 1251.6 3455.7C1265 3461.5 1278.4 3467.4 1291.8 3473.4C1308 3480.6 1324.1 3487.9 1340.2 3495.1C1353.6 3501.2 1366.6 3508 1380.3 3513.3C1385 3515.1 1390.7 3515.4 1394.4 3518.5C1396.9 3520.6 1398.8 3523.6 1400.4 3526.5C1403 3531.3 1402.3 3537.6 1404.4 3542.6C1406.8 3548.4 1410.4 3553.9 1414.5 3558.6C1419.4 3564.3 1426.2 3568.5 1432.5 3572.7C1441.3 3578.6 1451.1 3583.1 1460.6 3587.8C1473.7 3594.3 1487.3 3600 1500.8 3605.7C1514.1 3611.3 1527.7 3616.3 1541 3621.8C1554.4 3627.3 1567.9 3632.7 1581.1 3638.8C1592 3643.9 1603.2 3648.6 1613.3 3655C1621.7 3660.3 1629.6 3666.7 1637.3 3673.1C1644.2 3678.8 1650.9 3685 1657.4 3691.2C1664.3 3697.7 1670.7 3704.6 1677.5 3711.2C1682.2 3715.7 1686.1 3721.1 1691.6 3724.5C1693.5 3725.7 1695.6 3727.8 1697.5 3727.6C1699.1 3727.5 1701.1 3725.8 1702.3 3724.5C1704.5 3722 1704 3717.5 1704.6 3714C1706 3705.9 1705.2 3697.5 1705.8 3689.2C1706.2 3682.8 1705.6 3676.1 1707.4 3670C1708.1 3667.7 1708.5 3665 1710 3663.2C1711.1 3661.9 1712.9 3660.9 1714.5 3660C1718.9 3657.6 1724.6 3658.4 1729.7 3657.8C1747 3655.9 1764.5 3657.3 1781.9 3657.8C1797.4 3658.3 1813 3659.3 1828.5 3660.4C1839.2 3661.2 1849.9 3661.9 1860.6 3663C1871.4 3664.1 1882.2 3665.1 1892.8 3667.1C1903.6 3669.1 1914.5 3671.4 1924.9 3674.9C1933.7 3677.8 1942.3 3681.4 1950.6 3685.5C1958.3 3689.3 1965.9 3693.5 1973.1 3698.3C1981 3703.6 1988.6 3709.5 1995.6 3716C2002.5 3722.4 2009.2 3729.4 2014.9 3736.9C2021.2 3745.3 2026.1 3754.8 2030.9 3764.2C2035.7 3773.6 2039.8 3783.3 2043.8 3793.1C2047.9 3803.1 2051.5 3813.4 2055 3823.6C2058.5 3833.7 2061.5 3843.9 2064.7 3854.1" stroke="#0000ff" clip-path="url(#c4)" stroke-width="10.2"/>
<path d="M374 3147.2C386.7 3150.1 399.5 3152.8 412.1 3155.8C424.9 3158.7 437.6 3161.8 450.3 3165C463.7 3168.3 477.1 3171.8 490.5 3175.3C503.9 3178.9 517.2 3182.5 530.6 3186.2C544 3189.9 557.4 3193.8 570.8 3197.6C584.2 3201.5 597.6 3205.5 611 3209.5C624.4 3213.5 637.8 3217.5 651.1 3221.6C664.5 3225.7 677.9 3229.8 691.3 3234C704.7 3238.2 718.1 3242.4 731.5 3246.6C744.8 3250.8 758.2 3255 771.6 3259.3C784.7 3263.4 797.7 3267.5 810.8 3271.6C823.9 3275.8 836.9 3279.9 850 3284C863.4 3288.2 876.8 3292.3 890.1 3296.5C903.5 3300.6 916.9 3304.7 930.3 3308.7C943.7 3312.8 957 3316.8 970.5 3320.7C983.8 3324.6 997.3 3328.1 1010.6 3332.3C1021.4 3335.7 1032.2 3339.3 1042.8 3343.2C1050.9 3346.1 1058.8 3349.6 1066.9 3352.4C1074.8 3355.1 1082.9 3357.3 1091 3359.6C1104.3 3363.4 1117.8 3366.5 1131.2 3370.3C1144.6 3374 1158 3378 1171.3 3382.1C1184.7 3386.2 1198.1 3390.5 1211.4 3394.8C1224.9 3399.2 1238.2 3403.6 1251.6 3408.1C1267.8 3413.5 1283.9 3419.1 1300 3424.5C1317.4 3430.4 1334.8 3436.3 1352.2 3442.1C1370.9 3448.3 1389.5 3454.9 1408.4 3460.2C1425.6 3465.1 1443.2 3468.7 1460.6 3473.1C1474 3476.4 1487.4 3479.8 1500.8 3483.4C1514.2 3487 1527.6 3490.6 1541 3494.5C1554.4 3498.3 1567.8 3502.3 1581.2 3506.5C1594.6 3510.8 1608 3515.2 1621.3 3519.9C1630.9 3523.3 1640.4 3527.1 1650 3530.5C1655.4 3532.4 1660.8 3534.1 1666.1 3536.1C1671.5 3538.1 1676.8 3540.3 1682.1 3542.6C1687.5 3545 1693 3547.3 1698.2 3550.1C1702.6 3552.5 1706.8 3555.1 1711 3557.8C1714.3 3560 1717.6 3562.2 1720.7 3564.6C1724.1 3567.2 1727.2 3570.2 1730.3 3573.1C1733.6 3576.2 1736.6 3579.7 1740 3582.7C1741.6 3584.1 1743 3585.6 1744.8 3586.7C1746 3587.4 1747.4 3588.1 1748.8 3588.5C1750.6 3589 1752.6 3588.9 1754.4 3588.7C1756.6 3588.5 1758.6 3587.3 1760.8 3586.9C1762.4 3586.6 1764.1 3586.5 1765.7 3586.4C1777.9 3585.3 1790.3 3586.2 1802.6 3586.6C1810.6 3586.9 1818.7 3587.4 1826.7 3587.9C1834.5 3588.3 1842.3 3588.2 1850 3589.3C1853.6 3589.8 1857.1 3590.6 1860.6 3591.3C1869.3 3593.1 1877.9 3595.2 1886.3 3598.1C1894 3600.7 1901.6 3603.7 1908.8 3607.4C1915.5 3610.9 1922.1 3615 1928.1 3619.6C1935 3624.8 1941.5 3630.9 1947.4 3637.3C1953.3 3643.8 1958.6 3651 1963.5 3658.2C1969.4 3666.9 1974.6 3676.2 1979.5 3685.5C1984.2 3694.4 1988.4 3703.6 1992.4 3712.8C1997 3723.3 2001.1 3734.1 2005.2 3744.9C2009.7 3756.6 2014 3768.4 2018.1 3780.2C2022.6 3793 2026.8 3805.9 2030.9 3818.8C2035.4 3832.7 2039.5 3846.7 2043.8 3860.6C2048.1 3874.5 2052.3 3888.4 2056.6 3902.3C2059.3 3910.9 2062 3919.4 2064.7 3928L2066.3 3952.1" stroke="#000000" clip-path="url(#c4)" stroke-width="10.2"/>
</g>
<g class="t" text-anchor="end">
<text x="337.5" y="145">13</text><text x="337.5" y="312.9">12</text><text x="337.5" y="480.8">11</text><text x="337.5" y="648.7">10</text><text x="337.5" y="816.6">9</text><text x="337.5" y="984.5">8</text>
<text x="337.5" y="1068.4">7000</text><text x="337.5" y="1212.1">6000</text><text x="337.5" y="1355.9">5000</text><text x="337.5" y="1499.6">4000</text><text x="337.5" y="1643.3">3000</text><text x="337.5" y="1787">2000</text><text x="337.5" y="1930.8">1000</text><text x="337.5" y="2074.5">0</text>
<text x="337.5" y="2137.4">12</text><text x="337.5" y="2263.1">10</text><text x="337.5" y="2388.9">8</text><text x="337.5" y="2514.7">6</text><text x="337.5" y="2640.4">4</text><text x="337.5" y="2766.2">2</text><text x="337.5" y="2892">0</text><text x="337.5" y="3017.7">-2</text>
<text x="337.5" y="3080.6">8.0</text><text x="337.5" y="3206.5">7.5</text><text x="337.5" y="3332.3">7.0</text><text x="337.5" y="3458.2">6.5</text><text x="337.5" y="3584.1">6.0</text><text x="337.5" y="3709.9">5.5</text><text x="337.5" y="3835.8">5.0</text><text x="337.5" y="3961.6">4.5</text><text x="337.5" y="4087.5">4.0</text>
</g>
<g class="t" text-anchor="middle">
<text x="375.4" y="4161.5">-5</text>
<text x="752.7" y="4161.5">0</text>
<text x="1129.9" y="4161.5">5</text>
<text x="1507.2" y="4161.5">10</text>
<text x="1884.5" y="4161.5">15</text>
</g>
<text class="l" x="1109.5" y="4295.8">logt[s]</text>
<text class="l" transform="translate(132 701.1) rotate(-90)">logB[G]</text>
<text class="l g" transform="translate(99.1 1719.9) rotate(-90) scale(1.031 0.93)">Ω</text>
<text class="l" transform="translate(99.1 1657.2) rotate(-90)">[rad/s]</text>
<text class="l" transform="translate(123.9 2806.3) rotate(-90)"><tspan x="0">log</tspan><tspan x="121.5">(</tspan><tspan x="144" class="g">δ</tspan><tspan x="185.4" class="g">μ</tspan><tspan x="228">/</tspan><tspan x="252.6" class="g">π</tspan><tspan x="295.2">k</tspan><tspan x="339.8">)</tspan><tspan x="365">[K]</tspan></text>
<text class="l" transform="translate(113 3715.2) rotate(-90)">logT[K]</text>
</svg></body></html>
